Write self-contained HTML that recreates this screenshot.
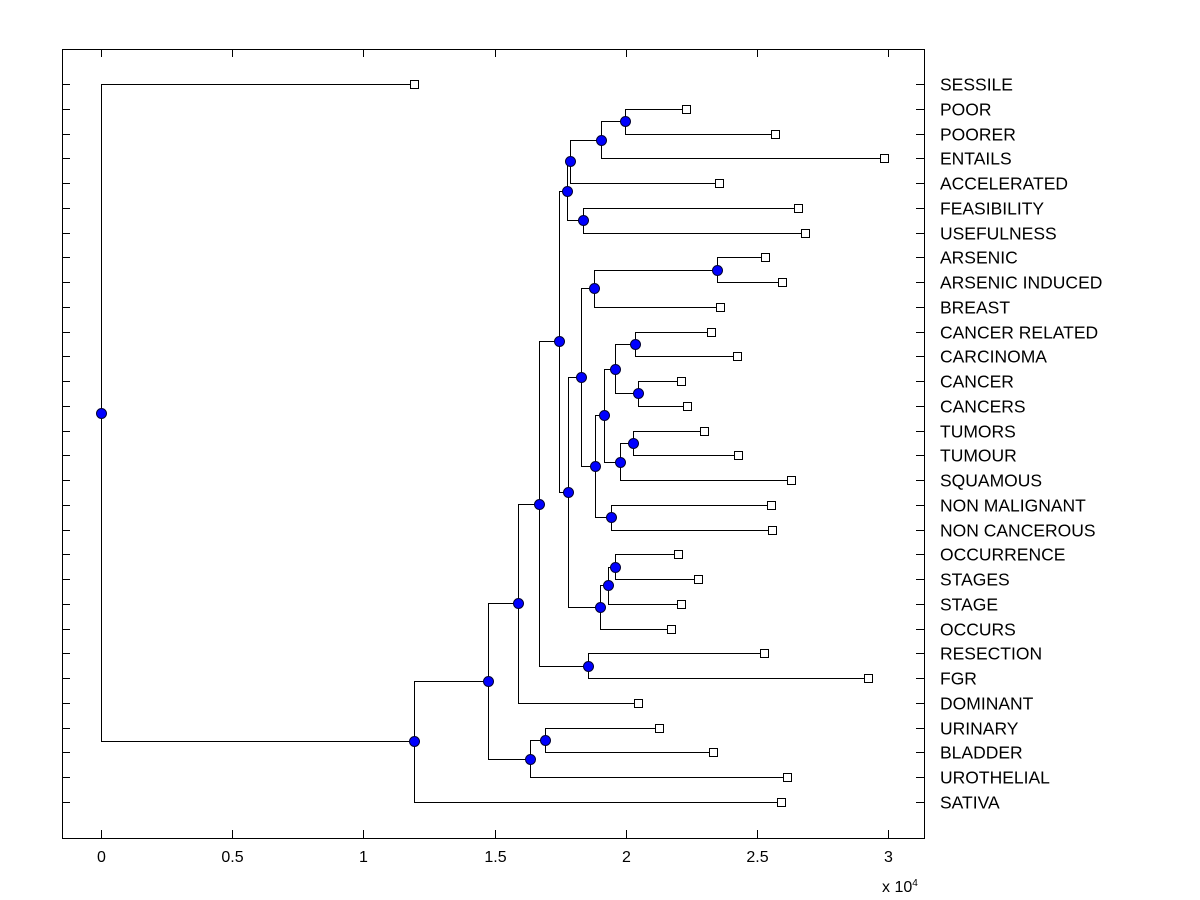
<!DOCTYPE html>
<html><head><meta charset="utf-8"><style>
html,body{margin:0;padding:0;background:#fff;}
svg{display:block;font-family:"Liberation Sans",Arial,sans-serif;}
</style></head><body>
<svg id="chart" width="1200" height="900"></svg>
<script>
const leafNames=["SESSILE","POOR","POORER","ENTAILS","ACCELERATED","FEASIBILITY","USEFULNESS","ARSENIC","ARSENIC INDUCED","BREAST","CANCER RELATED","CARCINOMA","CANCER","CANCERS","TUMORS","TUMOUR","SQUAMOUS","NON MALIGNANT","NON CANCEROUS","OCCURRENCE","STAGES","STAGE","OCCURS","RESECTION","FGR","DOMINANT","URINARY","BLADDER","UROTHELIAL","SATIVA"];
const leafHeights=[1.193,2.229,2.569,2.984,2.355,2.656,2.683,2.530,2.595,2.359,2.325,2.424,2.210,2.233,2.298,2.428,2.630,2.553,2.557,2.199,2.275,2.210,2.172,2.527,2.923,2.046,2.127,2.332,2.614,2.591];
const nodeLeft=[1,30,31,5,32,7,35,10,12,37,14,40,39,17,42,36,19,46,47,45,34,23,50,52,26,54,53,56,0];
const nodeRight=[2,3,4,6,33,8,9,11,13,38,15,16,41,18,43,44,20,21,22,48,49,24,51,25,27,28,55,29,57];
const nodeHeights=[1.997,1.905,1.787,1.837,1.776,2.348,1.879,2.035,2.046,1.959,2.027,1.978,1.917,1.944,1.883,1.829,1.959,1.932,1.902,1.780,1.745,1.856,1.669,1.589,1.692,1.635,1.475,1.193,0];
const xTicks=[0,0.5,1,1.5,2,2.5,3];
const xTickLabels=["0","0.5","1","1.5","2","2.5","3"];

const NS="http://www.w3.org/2000/svg";
const svg=document.getElementById('chart');
const L=62,R=924,T=49,B=838;
const xS=v=>101+v*262.4;
const y0=84,yStep=(802-84)/29;
const yS=i=>y0+i*yStep;
function mk(tag,attrs,parent){const e=document.createElementNS(NS,tag);for(const k in attrs)e.setAttribute(k,attrs[k]);(parent||svg).appendChild(e);return e;}

const axes=mk('g',{});


const frame=mk('rect',{x:L+0.5,y:T+0.5,width:R-L,height:B-T,fill:'none',stroke:'#000','stroke-width':1},axes);


xTicks.forEach((v,i)=>{
  const x=Math.round(xS(v))+0.5;
  const t1=mk('line',{x1:x,y1:B,x2:x,y2:B-8,stroke:'#000'},axes);
  
  
  const t2=mk('line',{x1:x,y1:T,x2:x,y2:T+8,stroke:'#000'},axes);
  
  
  const lb=mk('text',{x:x,y:862,'text-anchor':'middle','font-size':16},axes);
  lb.textContent=xTickLabels[i];
  
  
});
const mult=mk('text',{x:882,y:892,'font-size':16},axes);
mult.innerHTML='x 10<tspan font-size="10" dy="-6">4</tspan>';



leafNames.forEach((n,i)=>{
  const y=Math.round(yS(i))+0.5;
  const a=mk('line',{x1:L,y1:y,x2:L+8,y2:y,stroke:'#000'},axes);
  
  
  const b=mk('line',{x1:R-8,y1:y,x2:R,y2:y,stroke:'#000'},axes);
  
  
  const t=mk('text',{x:940,y:y+6,'font-size':17.5},axes);
  t.textContent=n;
  
  
});

const nL=leafNames.length;
const H=i=>i<nL?leafHeights[i]:nodeHeights[i-nL];
const Y={};
for(let i=0;i<nL;i++)Y[i]=yS(i);
for(let k=0;k<nodeHeights.length;k++)Y[nL+k]=(Y[nodeLeft[k]]+Y[nodeRight[k]])/2;

const lines=mk('g',{});


for(let k=0;k<nodeHeights.length;k++){
  const px=Math.round(xS(nodeHeights[k]))+0.5;
  const a=nodeLeft[k],b=nodeRight[k];
  const ya=Math.round(Y[a])+0.5,yb=Math.round(Y[b])+0.5;
  const p=mk('path',{d:`M${Math.round(xS(H(a)))},${ya}H${px}V${yb}H${Math.round(xS(H(b)))}`,fill:'none',stroke:'#000','stroke-width':1},lines);
  
  
}
for(let i=0;i<nL;i++){
  const s=mk('rect',{x:Math.round(xS(leafHeights[i]))-3.5,y:Math.round(Y[i])-3.5,width:8,height:8,fill:'#fff',stroke:'#000'});
  
  
}
for(let k=0;k<nodeHeights.length;k++){
  const c=mk('circle',{cx:Math.round(xS(nodeHeights[k]))+0.5,cy:Math.round(Y[nL+k])+0.5,r:5,fill:'#0000ff',stroke:'#000033','stroke-width':1});
  
  
}
</script>
</body></html>
